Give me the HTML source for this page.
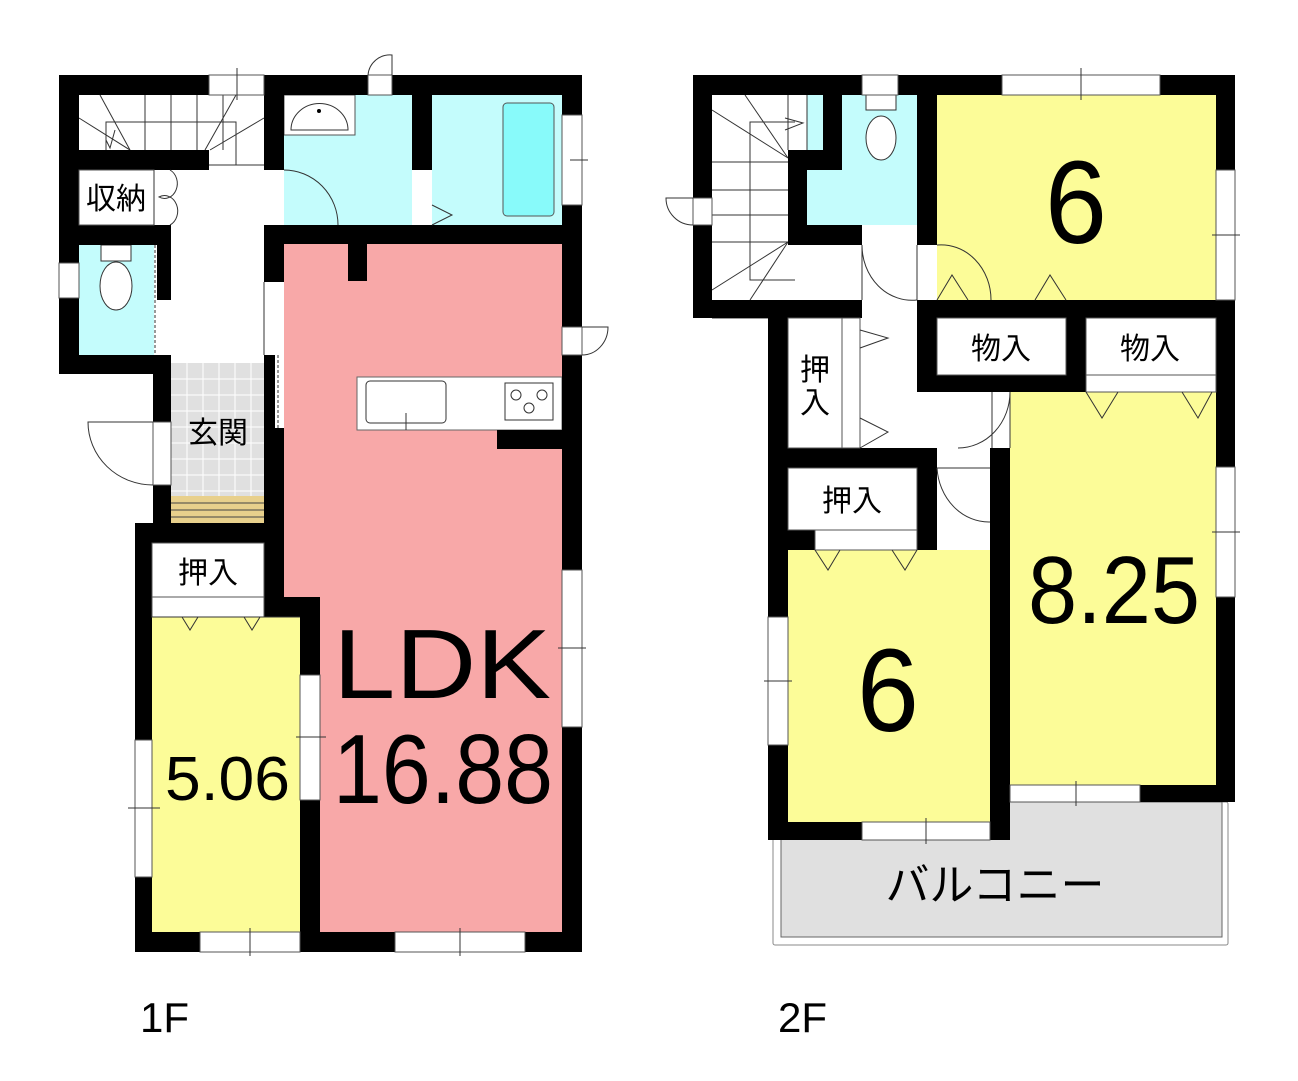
<!DOCTYPE html>
<html><head><meta charset="utf-8"><style>
html,body{margin:0;padding:0;background:#fff;}
svg{display:block;}
text{font-family:"Liberation Sans","Noto Sans CJK JP",sans-serif;fill:#000;}
</style></head><body>
<svg width="1298" height="1081" viewBox="0 0 1298 1081" xmlns="http://www.w3.org/2000/svg">
<rect width="1298" height="1081" fill="#fff"/>
<!-- ===== 1F fills ===== -->
<rect x="284" y="95" width="128" height="130" fill="#c4fcfc"/>
<rect x="432" y="95" width="130" height="130" fill="#c4fcfc"/>
<rect x="503" y="103" width="51" height="113" rx="4" fill="#88fafa" stroke="#555" stroke-width="1"/>
<rect x="284" y="95" width="71" height="40" fill="#fff" stroke="#555" stroke-width="1"/>
<path d="M291 130 A28 26 0 0 1 348 130 Z" fill="#fff" stroke="#333" stroke-width="1"/>
<circle cx="319" cy="111" r="2" fill="#000"/>
<rect x="79" y="245" width="75" height="110" fill="#c4fcfc"/>
<rect x="101" y="245" width="30" height="16" fill="#fff" stroke="#333" stroke-width="1"/>
<ellipse cx="116" cy="286" rx="16" ry="24" fill="#fff" stroke="#333" stroke-width="1"/>
<rect x="284" y="244" width="278" height="690" fill="#f8a8a8"/>
<rect x="152" y="617" width="148" height="316" fill="#fcfc98"/>
<!-- genkan tiles -->
<rect x="171" y="363" width="93" height="133" fill="#e0e0e0"/>
<g stroke="#fff" stroke-width="1">
<line x1="187" y1="363" x2="187" y2="496"/><line x1="203" y1="363" x2="203" y2="496"/><line x1="219" y1="363" x2="219" y2="496"/><line x1="235" y1="363" x2="235" y2="496"/><line x1="251" y1="363" x2="251" y2="496"/>
<line x1="171" y1="379" x2="264" y2="379"/><line x1="171" y1="395" x2="264" y2="395"/><line x1="171" y1="411" x2="264" y2="411"/><line x1="171" y1="427" x2="264" y2="427"/><line x1="171" y1="443" x2="264" y2="443"/><line x1="171" y1="459" x2="264" y2="459"/><line x1="171" y1="475" x2="264" y2="475"/><line x1="171" y1="491" x2="264" y2="491"/>
</g>
<rect x="171" y="496" width="93" height="30" fill="#e8d08c"/>
<g stroke="#444" stroke-width="1"><line x1="171" y1="503" x2="264" y2="503"/><line x1="171" y1="510" x2="264" y2="510"/><line x1="171" y1="517" x2="264" y2="517"/><line x1="171" y1="524" x2="264" y2="524"/></g>
<!-- stairs 1F -->
<g stroke="#333" stroke-width="1" fill="none">
<line x1="145" y1="95" x2="145" y2="150"/><line x1="171" y1="95" x2="171" y2="150"/><line x1="197" y1="95" x2="197" y2="150"/><line x1="223" y1="95" x2="223" y2="150"/>
<polyline points="106,150 106,122 236,122 236,165"/>
<line x1="79" y1="118" x2="130" y2="150"/><line x1="100" y1="95" x2="130" y2="150"/>
<line x1="264" y1="118" x2="210" y2="150"/><line x1="236" y1="95" x2="205" y2="150"/>
<line x1="209" y1="165" x2="264" y2="165"/>
<polyline points="106,140 110,148 115,130"/>
</g>
<!-- kitchen -->
<rect x="357" y="377" width="205" height="53" fill="#fff" stroke="#666" stroke-width="1"/>
<rect x="366" y="381" width="80" height="42" rx="4" fill="#fff" stroke="#333" stroke-width="1"/>
<line x1="406" y1="413" x2="406" y2="430" stroke="#333"/>
<rect x="505" y="383" width="48" height="37" fill="#fff" stroke="#333" stroke-width="1"/>
<circle cx="516" cy="395" r="5" fill="none" stroke="#333"/><circle cx="542" cy="395" r="5" fill="none" stroke="#333"/><circle cx="529" cy="408" r="5" fill="none" stroke="#333"/>
<!-- 1F walls -->
<g fill="#000">
<rect x="59" y="75" width="150" height="20"/>
<rect x="264" y="75" width="104" height="20"/>
<rect x="392" y="75" width="190" height="20"/>
<rect x="59" y="75" width="20" height="188"/>
<rect x="59" y="298" width="20" height="76"/>
<rect x="59" y="150" width="150" height="20"/>
<rect x="59" y="225" width="112" height="20"/>
<rect x="157" y="245" width="14" height="55"/>
<rect x="59" y="355" width="112" height="19"/>
<rect x="153" y="355" width="18" height="67"/>
<rect x="153" y="485" width="18" height="45"/>
<rect x="264" y="75" width="20" height="95"/>
<rect x="264" y="225" width="20" height="57"/>
<rect x="264" y="355" width="11" height="73"/>
<rect x="264" y="428" width="20" height="115"/>
<rect x="412" y="75" width="20" height="95"/>
<rect x="264" y="225" width="318" height="19"/>
<rect x="348" y="244" width="19" height="37"/>
<rect x="562" y="75" width="20" height="40"/>
<rect x="562" y="205" width="20" height="122"/>
<rect x="562" y="355" width="20" height="215"/>
<rect x="562" y="727" width="20" height="225"/>
<rect x="497" y="430" width="65" height="19"/>
<rect x="135" y="523" width="149" height="20"/>
<rect x="135" y="523" width="17" height="217"/>
<rect x="135" y="877" width="17" height="75"/>
<rect x="264" y="523" width="20" height="94"/>
<rect x="264" y="597" width="56" height="20"/>
<rect x="300" y="597" width="20" height="78"/>
<rect x="300" y="800" width="20" height="152"/>
<rect x="135" y="932" width="65" height="20"/>
<rect x="300" y="932" width="95" height="20"/>
<rect x="525" y="932" width="57" height="20"/>
</g>
<!-- 1F windows/doors -->
<g fill="#fff" stroke="#555" stroke-width="1">
<rect x="209" y="75" width="55" height="20"/>
<rect x="368" y="75" width="24" height="20"/>
<rect x="562" y="115" width="20" height="90"/>
<rect x="59" y="263" width="20" height="35"/>
<rect x="562" y="327" width="20" height="28"/>
<rect x="153" y="422" width="18" height="63"/>
<rect x="300" y="675" width="20" height="125"/>
<rect x="135" y="740" width="17" height="137"/>
<rect x="200" y="932" width="100" height="20"/>
<rect x="395" y="932" width="130" height="20"/>
<rect x="562" y="570" width="20" height="157"/>
<rect x="152" y="597" width="112" height="20"/>
<rect x="152" y="543" width="112" height="54"/>
<rect x="79" y="170" width="75" height="55"/>
</g>
<g stroke="#333" stroke-width="1" fill="none">
<line x1="237" y1="68" x2="237" y2="100"/>
<path d="M368 75 A22 22 0 0 1 392 55 L392 75"/>
<line x1="570" y1="160" x2="588" y2="160"/>
<path d="M582 327 L608 327 A26 28 0 0 1 582 355"/>
<path d="M284 170 A54 55 0 0 1 338 225"/>
<path d="M432 205 L452 215 L432 225"/>
<path d="M170 170 A12 14 0 0 1 159 197 A12 14 0 0 1 170 225"/>
<line x1="154" y1="170" x2="154" y2="225"/>
<line x1="155" y1="245" x2="155" y2="355" stroke-dasharray="3,2"/>
<line x1="278" y1="355" x2="278" y2="428" stroke-dasharray="3,2"/>
<line x1="264" y1="282" x2="264" y2="355"/>
<path d="M153 422 L88 422 A65 63 0 0 0 153 485"/>
<path d="M182 617 L190 630 L198 617 M244 617 L252 630 L260 617"/>
<line x1="152" y1="617" x2="300" y2="617"/>
<line x1="296" y1="737" x2="326" y2="737"/>
<line x1="128" y1="808" x2="160" y2="808"/>
<line x1="250" y1="928" x2="250" y2="956"/>
<line x1="460" y1="928" x2="460" y2="956"/>
<line x1="558" y1="648" x2="586" y2="648"/>
</g>
<!-- ===== 2F fills ===== -->
<rect x="773" y="802" width="455" height="143" fill="#fff" stroke="#888" stroke-width="1" rx="2"/>
<rect x="781" y="802" width="441" height="135" fill="#e0e0e0" stroke="#666" stroke-width="1"/>
<rect x="807" y="95" width="110" height="130" fill="#c4fcfc"/>
<rect x="866" y="95" width="30" height="15" fill="#fff" stroke="#333"/>
<ellipse cx="881" cy="138" rx="15" ry="22" fill="#fff" stroke="#333"/>
<rect x="937" y="95" width="279" height="205" fill="#fcfc98"/>
<rect x="1010" y="392" width="206" height="393" fill="#fcfc98"/>
<rect x="788" y="550" width="202" height="272" fill="#fcfc98"/>
<!-- stairs 2F -->
<g stroke="#333" stroke-width="1" fill="none">
<line x1="712" y1="162" x2="788" y2="162"/><line x1="712" y1="190" x2="788" y2="190"/><line x1="712" y1="215" x2="788" y2="215"/><line x1="712" y1="242" x2="788" y2="242"/>
<line x1="788" y1="95" x2="788" y2="150"/><line x1="807" y1="95" x2="807" y2="150"/>
<polyline points="795,122 750,122 750,280 795,280"/>
<line x1="712" y1="110" x2="788" y2="158"/><line x1="745" y1="95" x2="788" y2="158"/>
<line x1="712" y1="290" x2="788" y2="242"/><line x1="750" y1="300" x2="788" y2="242"/>
<polyline points="785,118 803,123 785,130"/>
<line x1="712" y1="318" x2="788" y2="318"/>
</g>
<!-- 2F walls -->
<g fill="#000">
<rect x="693" y="75" width="169" height="20"/>
<rect x="898" y="75" width="104" height="20"/>
<rect x="1160" y="75" width="75" height="20"/>
<rect x="693" y="75" width="19" height="123"/>
<rect x="693" y="225" width="19" height="93"/>
<rect x="693" y="300" width="169" height="18"/>
<rect x="823" y="75" width="19" height="75"/>
<rect x="788" y="150" width="54" height="20"/>
<rect x="788" y="150" width="19" height="95"/>
<rect x="788" y="225" width="74" height="20"/>
<rect x="917" y="75" width="20" height="170"/>
<rect x="1216" y="75" width="19" height="95"/>
<rect x="1216" y="300" width="19" height="167"/>
<rect x="1216" y="597" width="19" height="205"/>
<rect x="917" y="300" width="318" height="18"/>
<rect x="917" y="300" width="20" height="92"/>
<rect x="917" y="375" width="169" height="17"/>
<rect x="1066" y="300" width="20" height="92"/>
<rect x="768" y="300" width="20" height="317"/>
<rect x="768" y="745" width="20" height="95"/>
<rect x="768" y="448" width="169" height="20"/>
<rect x="917" y="448" width="20" height="102"/>
<rect x="788" y="530" width="27" height="20"/>
<rect x="990" y="448" width="20" height="392"/>
<rect x="768" y="822" width="94" height="18"/>
<rect x="1140" y="785" width="95" height="17"/>
</g>
<g fill="#fff" stroke="#555" stroke-width="1">
<rect x="862" y="75" width="36" height="20"/>
<rect x="1002" y="75" width="158" height="20"/>
<rect x="1216" y="170" width="19" height="130"/>
<rect x="693" y="198" width="19" height="27"/>
<rect x="937" y="318" width="129" height="57"/>
<rect x="1086" y="318" width="130" height="57"/>
<rect x="1086" y="375" width="130" height="17"/>
<rect x="788" y="318" width="54" height="130"/>
<rect x="842" y="318" width="18" height="130"/>
<rect x="788" y="468" width="129" height="62"/>
<rect x="815" y="530" width="102" height="20"/>
<rect x="768" y="617" width="20" height="128"/>
<rect x="1216" y="467" width="19" height="130"/>
<rect x="862" y="822" width="128" height="18"/>
<rect x="1010" y="785" width="130" height="17"/>
</g>
<g stroke="#333" stroke-width="1" fill="none">
<line x1="1081" y1="68" x2="1081" y2="100"/>
<line x1="1212" y1="235" x2="1240" y2="235"/>
<line x1="1212" y1="532" x2="1240" y2="532"/>
<line x1="764" y1="681" x2="792" y2="681"/>
<line x1="926" y1="818" x2="926" y2="844"/>
<line x1="1076" y1="781" x2="1076" y2="806"/>
<path d="M693 198 L666 198 A27 27 0 0 0 693 225"/>
<path d="M862 245 A50 55 0 0 0 917 300"/>
<path d="M937 245 A50 55 0 0 1 991 300"/>
<line x1="862" y1="245" x2="862" y2="300"/><line x1="917" y1="245" x2="917" y2="300"/>
<path d="M937 300 L952 275 L968 300 M1035 300 L1050 275 L1066 300"/>
<path d="M1086 392 L1102 418 L1118 392 M1182 392 L1198 418 L1212 392"/>
<path d="M860 330 L888 338 L860 348 M860 418 L888 432 L860 448"/>
<path d="M1010 392 A52 56 0 0 1 958 448"/>
<line x1="992" y1="392" x2="992" y2="448"/><line x1="1010" y1="392" x2="1010" y2="448"/>
<path d="M937 468 A52 58 0 0 0 990 522"/>
<line x1="937" y1="468" x2="990" y2="468"/>
<path d="M815 550 L828 570 L840 550 M892 550 L905 570 L917 550"/>
</g>
<!-- labels -->
<text x="116" y="209" font-size="30" text-anchor="middle">収納</text>
<text x="218" y="443" font-size="30" text-anchor="middle">玄関</text>
<text x="208" y="583" font-size="30" text-anchor="middle">押入</text>
<text x="165" y="800" font-size="62" textLength="125" lengthAdjust="spacingAndGlyphs">5.06</text>
<text x="333" y="698" font-size="98" textLength="218" lengthAdjust="spacingAndGlyphs">LDK</text>
<text x="333" y="803" font-size="98" textLength="220" lengthAdjust="spacingAndGlyphs">16.88</text>
<text x="140" y="1032" font-size="42">1F</text>
<text x="778" y="1032" font-size="42">2F</text>
<text x="1076" y="243" font-size="118" text-anchor="middle" textLength="62" lengthAdjust="spacingAndGlyphs">6</text>
<text x="888" y="731" font-size="118" text-anchor="middle" textLength="62" lengthAdjust="spacingAndGlyphs">6</text>
<text x="1028" y="623" font-size="96" textLength="172" lengthAdjust="spacingAndGlyphs">8.25</text>
<text x="1001" y="359" font-size="30" text-anchor="middle">物入</text>
<text x="1150" y="359" font-size="30" text-anchor="middle">物入</text>
<text x="815" y="380" font-size="30" text-anchor="middle">押</text>
<text x="815" y="413" font-size="30" text-anchor="middle">入</text>
<text x="852" y="511" font-size="30" text-anchor="middle">押入</text>
<text x="995" y="900" font-size="44" text-anchor="middle">バルコニー</text>
</svg>
</body></html>
